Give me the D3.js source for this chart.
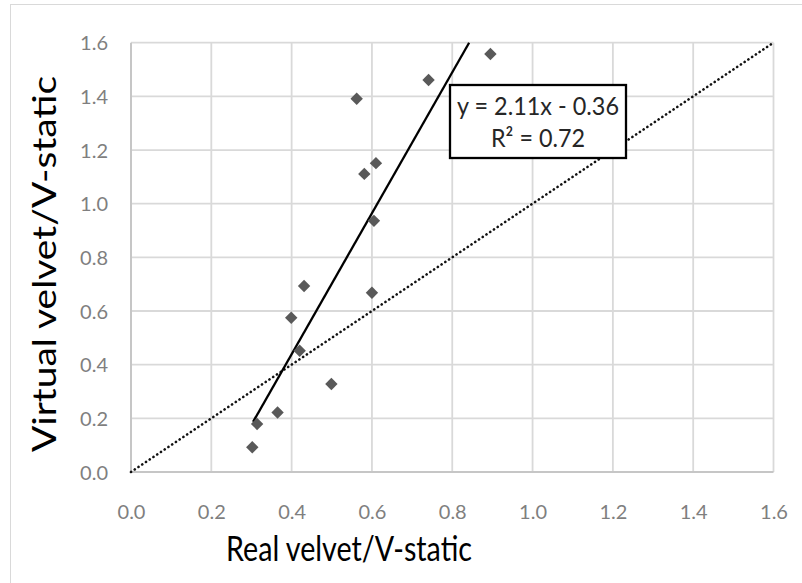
<!DOCTYPE html>
<html>
<head>
<meta charset="utf-8">
<script src="https://cdn.jsdelivr.net/npm/d3@7"></script>
<style>
  html, body { margin: 0; padding: 0; background: #fff; }
  svg { display: block; }
</style>
</head>
<body>
<svg id="chart" width="802" height="583"></svg>
<script>
// ---- data ----
const realVelvet    = [0.302, 0.314, 0.365, 0.431, 0.399, 0.420, 0.499, 0.600, 0.562, 0.741, 0.895, 0.581, 0.610, 0.605];
const virtualVelvet = [0.092, 0.179, 0.222, 0.693, 0.575, 0.452, 0.328, 0.668, 1.391, 1.461, 1.558, 1.111, 1.151, 0.936];
const trendX = [0.304, 0.842];
const trendY = [0.187, 1.600];
const identityX = [0, 1.6];
const identityY = [0, 1.6];
const tickValues = [0, 0.2, 0.4, 0.6, 0.8, 1.0, 1.2, 1.4, 1.6];
const equationLines = ["y = 2.11x - 0.36", "R² = 0.72"];
const xTitle = "Real velvet/V-static";
const yTitle = "Virtual velvet/V-static";

// ---- layout ----
const svg = d3.select("#chart");
const L = 131, R = 773.5, T = 42.7, B = 472;
const x = d3.scaleLinear().domain([0, 1.6]).range([L, R]);
const y = d3.scaleLinear().domain([0, 1.6]).range([B, T]);
const font = "Lato, 'Open Sans', sans-serif";

// outer border
svg.append("rect").attr("x", 10.5).attr("y", 4.5).attr("width", 800).attr("height", 600)
  .attr("fill", "none").attr("stroke", "#d9d9d9").attr("stroke-width", 1);

// gridlines
const grid = svg.append("g");
grid.selectAll("line.v").data(tickValues.slice(1)).join("line")
  .attr("x1", d => x(d)).attr("x2", d => x(d)).attr("y1", B).attr("y2", T)
  .attr("stroke", "#d9d9d9").attr("stroke-width", 1.8);
grid.selectAll("line.h").data(tickValues.slice(1)).join("line")
  .attr("x1", L).attr("x2", R).attr("y1", d => y(d)).attr("y2", d => y(d))
  .attr("stroke", "#d9d9d9").attr("stroke-width", 1.8);

// axes lines
svg.append("line").attr("x1", L).attr("x2", R).attr("y1", B).attr("y2", B)
  .attr("stroke", "#c6c6c6").attr("stroke-width", 2);
svg.append("line").attr("x1", L).attr("x2", L).attr("y1", B).attr("y2", T)
  .attr("stroke", "#c6c6c6").attr("stroke-width", 2);

// tick labels via d3 axes (domain/ticks hidden)
const fmt = d3.format(".1f");
const xAxis = svg.append("g").attr("transform", `translate(0,${B})`)
  .call(d3.axisBottom(x).tickValues(tickValues).tickFormat(fmt).tickSize(0).tickPadding(0));
xAxis.select(".domain").remove();
xAxis.selectAll("text").attr("font-family", font).attr("font-size", 20).attr("fill", "#7f7f7f")
  .attr("dy", null).attr("y", 47);

const yAxis = svg.append("g").attr("transform", `translate(${L},0)`)
  .call(d3.axisLeft(y).tickValues(tickValues).tickFormat(fmt).tickSize(0).tickPadding(0));
yAxis.select(".domain").remove();
yAxis.selectAll("text").attr("font-family", font).attr("font-size", 20).attr("fill", "#7f7f7f")
  .attr("x", -23).attr("dy", "0.35em");

// identity dotted line
const line = d3.line().x(d => x(d[0])).y(d => y(d[1]));
svg.append("path").datum(d3.zip(identityX, identityY)).attr("d", line)
  .attr("fill", "none").attr("stroke", "#111").attr("stroke-width", 2.6)
  .attr("stroke-linecap", "round").attr("stroke-dasharray", "0.1 4.4");

// trend line
svg.append("path").datum(d3.zip(trendX, trendY)).attr("d", line)
  .attr("fill", "none").attr("stroke", "#000").attr("stroke-width", 2.3);

// markers
const s = 6.2;
svg.append("g").selectAll("path").data(d3.zip(realVelvet, virtualVelvet)).join("path")
  .attr("d", d => {
    const cx = x(d[0]), cy = y(d[1]);
    return `M${cx},${cy - s}L${cx + s},${cy}L${cx},${cy + s}L${cx - s},${cy}Z`;
  })
  .attr("fill", "#595959");

// equation box
const box = svg.append("g");
box.append("rect").attr("x", 450).attr("y", 85).attr("width", 176).attr("height", 73)
  .attr("fill", "#fff").attr("stroke", "#000").attr("stroke-width", 2.3);
box.selectAll("text").data(equationLines).join("text")
  .attr("x", 538).attr("y", (d, i) => 115 + i * 32)
  .attr("text-anchor", "middle").attr("font-family", font).attr("font-size", 25)
  .attr("fill", "#262626").attr("textLength", (d, i) => i === 0 ? 162 : 94)
  .attr("lengthAdjust", "spacingAndGlyphs").text(d => d);

// axis titles
svg.append("text").attr("x", 349).attr("y", 561).attr("text-anchor", "middle")
  .attr("font-family", font).attr("font-size", 34).attr("fill", "#000")
  .attr("textLength", 246).attr("lengthAdjust", "spacingAndGlyphs").text(xTitle);
svg.append("text").attr("transform", "translate(56,264) rotate(-90)").attr("text-anchor", "middle")
  .attr("font-family", font).attr("font-size", 33).attr("fill", "#000")
  .attr("textLength", 376).attr("lengthAdjust", "spacingAndGlyphs").text(yTitle);
</script>
</body>
</html>
